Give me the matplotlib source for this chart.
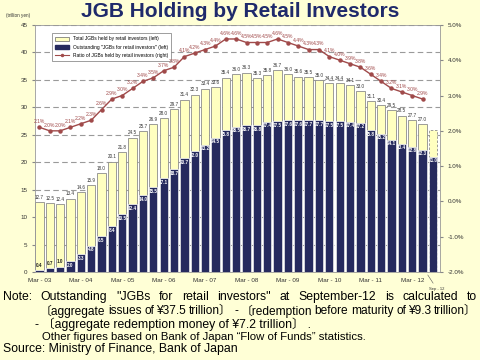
import numpy as np
import matplotlib.pyplot as plt
from matplotlib.patches import Patch
from matplotlib.lines import Line2D

plt.rcParams['font.family'] = ['Liberation Sans', 'Noto Sans CJK JP', 'DejaVu Sans']

# quarterly, Mar-03 .. Sep-12
tick_labels = ['Mar - 03', 'Mar - 04', 'Mar - 05', 'Mar - 06', 'Mar - 07',
               'Mar - 08', 'Mar - 09', 'Mar - 10', 'Mar - 11', 'Mar - 12']
total = [12.7, 12.5, 12.4, 13.4, 14.6, 15.9, 18.0, 20.1, 21.8, 24.5, 25.7, 26.9,
         28.0, 29.7, 31.4, 32.3, 33.4, 33.6, 35.4, 36.0, 36.3, 35.3, 35.8, 36.7,
         36.0, 35.6, 35.5, 35.0, 34.4, 34.4, 34.1, 33.0, 31.1, 30.4, 29.5, 28.5,
         27.7, 27.0, 25.8]
retail = [0.4, 0.7, 1.0, 2.0, 3.3, 4.8, 6.5, 8.4, 10.5, 12.4, 14.0, 15.5,
          17.1, 18.7, 20.7, 22.0, 23.2, 24.5, 25.8, 26.5, 26.7, 26.8, 27.4, 27.5,
          27.6, 27.6, 27.7, 27.7, 27.5, 27.5, 27.4, 27.2, 25.8, 25.2, 24.1, 23.4,
          22.8, 22.3, 21.0]
ratio = [2.1, 2.0, 2.0, 2.1, 2.2, 2.3, 2.6, 2.9, 3.0, 3.2, 3.4, 3.5,
         3.7, 3.8, 4.1, 4.2, 4.3, 4.4, 4.6, 4.6, 4.5, 4.5, 4.5, 4.6,
         4.5, 4.4, 4.3, 4.3, 4.1, 4.0, 3.9, 3.8, 3.6, 3.4, 3.2, 3.1,
         3.0, 2.9]

BG = '#FFFFD6'
YEL = '#FFFFC0'
NAVY = '#262A5E'
RED = '#A04A4A'

fig = plt.figure(figsize=(4.8, 3.6), dpi=100, facecolor=BG)
ax = fig.add_axes([0.073, 0.244, 0.844, 0.687])
ax.set_facecolor('white')

x = np.arange(len(total))
n = len(total)
# last quarter total is provisional -> dashed outline
bars = ax.bar(x, total, width=0.8, color=YEL, edgecolor='#8C8C8C', linewidth=0.6, zorder=2)
bars[-1].set_linestyle((0, (3, 2)))
ax.bar(x, retail, width=0.8, color=NAVY, edgecolor='white', linewidth=0.5, zorder=3)

for i in range(n - 1):
    ax.text(x[i], total[i] + 0.4, '%.1f' % total[i], ha='center', va='bottom',
            fontsize=3.3, color='#333333', zorder=5)
for i in range(n):
    if retail[i] < 1.5:
        ax.text(x[i], retail[i] + 0.4, '%.1f' % retail[i], ha='center', va='bottom',
                fontsize=3.3, color='#222222', weight='bold', zorder=5)
    else:
        ax.text(x[i], retail[i] - 0.3, '%.1f' % retail[i], ha='center', va='top',
                fontsize=3.3, color='white', weight='bold', zorder=5)

ax.set_xlim(-0.42, n - 0.3)
ax.set_ylim(0, 45)
ax.set_yticks(range(0, 46, 5))
ax.yaxis.grid(True, linestyle=(0, (5, 3)), color='#9A9A9A', linewidth=0.8)
ax.set_axisbelow(True)
ax.set_xticks(x[:-1:4])
ax.set_xticklabels(tick_labels)
ax.tick_params(axis='x', length=0, labelsize=4.5, labelcolor='#333333', pad=4)
ax.tick_params(axis='y', length=2, labelsize=4.5, labelcolor='#333333', color='#888888')
for s in ax.spines.values():
    s.set_color('#999999')
    s.set_linewidth(0.6)

ax.annotate('Sep - 12', xy=(x[-1] - 0.5, -0.5), xytext=(x[-1] + 0.4, -3.1),
            xycoords='data', fontsize=3.0, color='#333333', ha='center', va='center',
            annotation_clip=False,
            arrowprops=dict(arrowstyle='-', color='#555555', lw=0.4, shrinkA=1, shrinkB=0))

ax2 = ax.twinx()
ax2.set_ylim(-2, 5)
ax2.set_yticks(range(-2, 6))
ax2.set_yticklabels(['%.1f%%' % v for v in range(-2, 6)])
ax2.tick_params(axis='y', length=2, labelsize=4.5, labelcolor='#333333', color='#888888')
for s in ax2.spines.values():
    s.set_visible(False)
xr = x[:len(ratio)]
ax2.plot(xr, ratio, color=RED, lw=1.0, marker='o', ms=2.2, zorder=6)
for i in range(len(ratio)):
    ax2.text(xr[i], ratio[i] + 0.09, '%.1f%%' % ratio[i], ha='center', va='bottom',
             fontsize=3.6, color=RED, zorder=6)

handles = [Patch(facecolor=YEL, edgecolor='#666666', linewidth=0.5),
           Patch(facecolor=NAVY, edgecolor=NAVY),
           Line2D([], [], color=RED, marker='o', ms=1.5, lw=0.8)]
names = ['Total JGBs held by retail investors (left)',
         'Outstanding "JGBs for retail investors" (left)',
         'Ratio of JGBs held by retail investors (right)']
leg = ax2.legend(handles, names, loc='upper left', bbox_to_anchor=(0.035, 0.975),
                 fontsize=3.5, frameon=True, fancybox=False, framealpha=1,
                 edgecolor='#777777', handlelength=3, handleheight=0.8,
                 borderpad=0.6, labelspacing=0.7)
leg.get_frame().set_linewidth(0.5)

fig.text(0.5, 0.967, 'JGB Holding by Retail Investors', ha='center', va='center',
         fontsize=15, weight='bold', color='#1F2A6B')
fig.text(0.012, 0.957, '(trillion yen)', ha='left', va='center', fontsize=3.3, color='#333333')


def justify(words, x0, x1, y, size, min_gap=2.5, **kw):
    r = fig.canvas.get_renderer()
    W = fig.bbox.width
    span = (x1 - x0) * W
    texts = [fig.text(0, y, w, va='center', fontsize=size, **kw) for w in words]
    widths = [t.get_window_extent(r).width for t in texts]
    need = sum(widths) + min_gap * (len(words) - 1)
    if need > span:
        # shrink the line until it fits
        k = span / need
        for t in texts:
            t.set_fontsize(size * k)
        widths = [t.get_window_extent(r).width for t in texts]
    gap = max((span - sum(widths)) / (len(words) - 1), 0)
    pos = x0 * W
    for t, w in zip(texts, widths):
        t.set_x(pos / W)
        pos += w + gap


note_kw = dict(color='black')
justify('Note: Outstanding "JGBs for retail investors" at September-12 is calculated to'.split(),
        3 / 480, 477 / 480, 0.175, 8.8, **note_kw)
justify('〔aggregate issues of ¥37.5 trillion〕 - 〔redemption before maturity of ¥9.3 trillion〕'.split(),
        40 / 480, 477 / 480, 0.136, 8.8, **note_kw)
fig.text(35 / 480, 0.099, '- 〔aggregate redemption money of ¥7.2 trillion〕 .', va='center',
         fontsize=8.8, **note_kw)
fig.text(42 / 480, 0.063, 'Other figures based on Bank of Japan \u201cFlow of Funds\u201d statistics.',
         va='center', fontsize=8.2, **note_kw)
fig.text(3 / 480, 0.030, 'Source: Ministry of Finance, Bank of Japan', va='center',
         fontsize=8.8, **note_kw)

fig.savefig('out.png', dpi=100, facecolor=BG)
